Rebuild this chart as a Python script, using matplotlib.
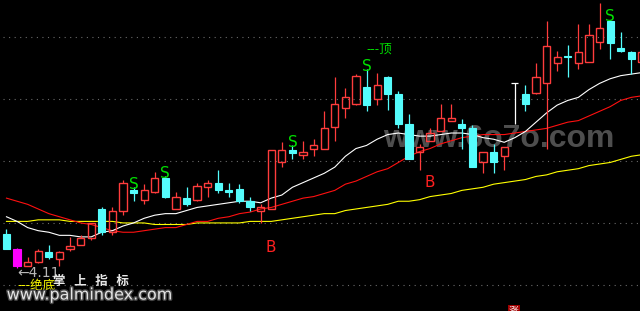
import matplotlib
matplotlib.use("Agg")
import matplotlib.pyplot as plt
import matplotlib.patheffects as pe
from matplotlib.patches import Rectangle

plt.rcParams['font.family'] = ['DejaVu Sans', 'Noto Sans CJK SC']

## data ##

opens = [4.33, 4.23, 4.12, 4.15, 4.21, 4.17, 4.23, 4.26, 4.30, 4.49,
         4.34, 4.48, 4.61, 4.55, 4.60, 4.69, 4.49, 4.56, 4.55, 4.63,
         4.66, 4.61, 4.62, 4.54, 4.48, 4.49, 4.79, 4.87, 4.84, 4.88,
         4.88, 5.02, 5.14, 5.17, 5.28, 5.20, 5.34, 5.23, 5.04, 4.86,
         4.93, 4.99, 5.06, 5.04, 5.01, 4.79, 4.86, 4.83, 5.30, 5.23,
         5.24, 5.30, 5.43, 5.48, 5.43, 5.44, 5.57, 5.70, 5.53, 5.50,
         5.44]
highs = [4.36, 4.24, 4.18, 4.23, 4.26, 4.22, 4.31, 4.32, 4.40, 4.50,
         4.50, 4.68, 4.63, 4.65, 4.73, 4.70, 4.60, 4.63, 4.66, 4.68,
         4.74, 4.66, 4.65, 4.57, 4.52, 4.87, 4.92, 4.90, 4.93, 4.94,
         5.12, 5.34, 5.27, 5.36, 5.39, 5.37, 5.35, 5.25, 5.10, 4.91,
         5.01, 5.17, 5.17, 5.07, 5.03, 4.86, 4.91, 4.89, 5.30, 5.29,
         5.43, 5.70, 5.51, 5.55, 5.68, 5.68, 5.82, 5.71, 5.63, 5.51,
         5.52]
lows = [4.23, 4.11, 4.12, 4.14, 4.17, 4.12, 4.22, 4.26, 4.29, 4.32,
        4.32, 4.45, 4.54, 4.52, 4.59, 4.56, 4.49, 4.51, 4.54, 4.57,
        4.59, 4.57, 4.53, 4.48, 4.40, 4.49, 4.76, 4.81, 4.81, 4.83,
        4.88, 4.93, 5.08, 5.16, 5.12, 5.16, 5.13, 5.01, 4.81, 4.74,
        4.93, 4.99, 5.06, 4.88, 4.76, 4.72, 4.72, 4.74, 5.04, 5.12,
        5.23, 4.88, 5.38, 5.34, 5.39, 5.44, 5.52, 5.46, 5.50, 5.36,
        5.42]
closes = [4.23, 4.12, 4.15, 4.22, 4.18, 4.21, 4.25, 4.30, 4.40, 4.34,
          4.48, 4.66, 4.59, 4.61, 4.69, 4.57, 4.57, 4.52, 4.64, 4.66,
          4.61, 4.60, 4.54, 4.50, 4.50, 4.87, 4.87, 4.85, 4.86, 4.90,
          5.01, 5.17, 5.21, 5.35, 5.16, 5.29, 5.23, 5.04, 4.81, 4.89,
          4.98, 5.08, 5.08, 5.01, 4.76, 4.86, 4.79, 4.89, 5.30, 5.17,
          5.34, 5.54, 5.47, 5.47, 5.50, 5.61, 5.66, 5.56, 5.51, 5.46,
          5.50]

ma_white = [4.44, 4.41, 4.37, 4.35, 4.34, 4.32, 4.32, 4.31, 4.31, 4.34,
            4.35, 4.38, 4.40, 4.43, 4.45, 4.46, 4.46, 4.48, 4.50, 4.51,
            4.52, 4.53, 4.54, 4.54, 4.53, 4.56, 4.58, 4.63, 4.66, 4.69,
            4.72, 4.76, 4.83, 4.88, 4.90, 4.94, 4.97, 4.98, 4.97, 4.96,
            4.96, 4.97, 4.98, 4.98, 4.97, 4.95, 4.94, 4.92, 4.95, 4.99,
            5.05, 5.11, 5.16, 5.19, 5.21, 5.26, 5.30, 5.33, 5.35, 5.36,
            5.37]
ma_red = [4.56, 4.54, 4.52, 4.49, 4.46, 4.44, 4.42, 4.40, 4.39, 4.37,
          4.35, 4.34, 4.34, 4.35, 4.36, 4.37, 4.37, 4.39, 4.41, 4.41,
          4.43, 4.44, 4.46, 4.47, 4.49, 4.50, 4.52, 4.54, 4.56, 4.57,
          4.59, 4.61, 4.65, 4.67, 4.70, 4.73, 4.75, 4.79, 4.83, 4.86,
          4.88, 4.91, 4.93, 4.95, 4.96, 4.97, 4.97, 4.97, 4.98, 4.99,
          5.00, 5.01, 5.03, 5.05, 5.06, 5.09, 5.12, 5.15, 5.19, 5.21,
          5.22]
ma_yellow = [4.41, 4.41, 4.41, 4.42, 4.42, 4.42, 4.41, 4.41, 4.41, 4.41,
             4.41, 4.40, 4.40, 4.40, 4.39, 4.39, 4.39, 4.39, 4.40, 4.40,
             4.40, 4.40, 4.40, 4.41, 4.41, 4.41, 4.42, 4.43, 4.44, 4.45,
             4.46, 4.46, 4.48, 4.49, 4.50, 4.51, 4.52, 4.54, 4.54, 4.55,
             4.57, 4.58, 4.59, 4.61, 4.62, 4.63, 4.65, 4.66, 4.67, 4.68,
             4.70, 4.71, 4.73, 4.74, 4.75, 4.77, 4.78, 4.79, 4.81, 4.83,
             4.84]

grid_levels = [4.0, 4.4, 4.8, 5.2, 5.6]
bottom_idx = 1          # "绝底" candle, drawn magenta
bottom_price = "4.11"
top_idx = 34            # "顶"
s_idx = [12, 15, 27, 34, 57]
b_idx = [25, 40]
b_level = [4.21, 4.63]

RED = '#ff3c3c'
CYAN = '#54fcfc'
GREEN = '#00e000'

fig = plt.figure(figsize=(6.4, 3.11), dpi=100, facecolor='black')
ax = fig.add_axes([0, 0, 1, 1])
ax.set_facecolor('black')
ax.set_xlim(-0.61, 59.82)
ax.set_ylim(3.832, 5.838)
ax.axis('off')

for g in grid_levels:
    ax.plot([-0.35, 61], [g, g], color='#6a6a6a', lw=0.8, ls=(0, (1, 4)), zorder=1)

# faint site watermark
ax.text(383 / 640, 1 - 147 / 311, 'www.6o7o.com', transform=ax.transAxes,
        family='Liberation Sans', fontweight='bold', fontsize=23,
        color='#4e4e4e', ha='left', va='baseline', zorder=0.5)

x = list(range(len(closes)))
ax.plot(x, ma_yellow, color='#ffff00', lw=0.8, zorder=2)
ax.plot(x, ma_red, color='#ff1010', lw=0.8, zorder=2)
ax.plot(x, ma_white, color='white', lw=0.8, zorder=2)

w = 0.68
for i in x:
    o, h, l, c = opens[i], highs[i], lows[i], closes[i]
    if i == bottom_idx:
        ax.vlines(i, l, h, color='#ff00ff', lw=0.9, zorder=3)
        ax.add_patch(Rectangle((i - w / 2, c), w, o - c, facecolor='#ff00ff',
                               edgecolor='#ff00ff', lw=0.8, zorder=4))
    elif c > o:
        ax.vlines(i, c, h, color=RED, lw=0.9, zorder=3)
        ax.vlines(i, l, o, color=RED, lw=0.9, zorder=3)
        ax.add_patch(Rectangle((i - w / 2, o), w, c - o, facecolor='none',
                               edgecolor=RED, lw=1, zorder=4))
    elif c < o:
        ax.vlines(i, l, h, color=CYAN, lw=0.9, zorder=3)
        ax.add_patch(Rectangle((i - w / 2, c), w, o - c, facecolor=CYAN,
                               edgecolor=CYAN, lw=0.8, zorder=4))
    else:
        ax.vlines(i, l, h, color='white', lw=0.9, zorder=3)
        ax.hlines(c, i - w / 2, i + w / 2, color='white', lw=0.9, zorder=3)

for i in s_idx:
    ax.annotate('S', xy=(i, highs[i]), xytext=(0, -1), textcoords='offset points',
                ha='center', va='baseline', color=GREEN, fontsize=11, zorder=6)

for i, lv in zip(b_idx, b_level):
    ax.text(i, lv, 'B', ha='center', va='baseline', color='#ff2020',
            fontsize=11, zorder=6)

ax.text(top_idx, highs[top_idx] + 0.13, '---顶', ha='left', va='center',
        color=GREEN, fontsize=9, family=['Noto Sans CJK SC'], zorder=6)

ax.text(bottom_idx, lows[bottom_idx] - 0.03, '←' + bottom_price, ha='left',
        va='center', color='#b8b8b8', fontsize=10, zorder=6)
ax.text(bottom_idx, 4.0, '---绝底', ha='left', va='center', color='#ffff00',
        fontsize=9, family=['Noto Sans CJK SC'], zorder=6)

ax.text(91 / 640, 1 - 281 / 311, '掌   上   指   标', transform=ax.transAxes,
        ha='center', va='center', color='#e8e8e8', fontsize=9, fontweight='bold',
        family=['Noto Sans CJK SC'], zorder=6)
ax.text(90 / 640, 1 - 295 / 311, 'www.palmindex.com', transform=ax.transAxes,
        ha='center', va='center', color='#e4e4e4', fontsize=11.5, zorder=6,
        path_effects=[pe.withStroke(linewidth=2, foreground='#454545')])

ax.text(514 / 640, 1 - 306 / 311, '涨', transform=ax.transAxes, ha='center',
        va='top', color='white', fontsize=7, family=['Noto Sans CJK SC'],
        bbox=dict(boxstyle='square,pad=0.15', facecolor='#a00000', edgecolor='none'),
        zorder=6)

fig.savefig('out.png', dpi=100, facecolor='black')
